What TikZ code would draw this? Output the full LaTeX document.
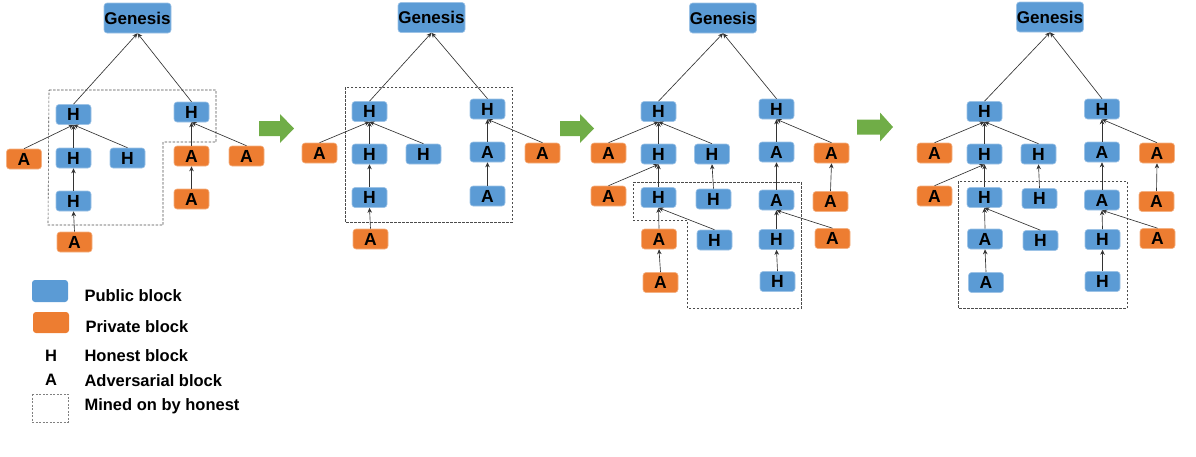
\documentclass[tikz,border=0pt]{standalone}
\usepackage{fontspec}
\setmainfont{Liberation Sans}
\usetikzlibrary{arrows.meta}

\definecolor{blokbiru}{HTML}{5B9BD5}
\definecolor{blokoranye}{HTML}{ED7D31}
\definecolor{panahhijau}{HTML}{70AD47}

\tikzset{
  blok/.style={rounded corners=3pt, minimum width=35pt, minimum height=20pt,
    inner sep=0pt, font=\fontsize{17.5}{17.5}\selectfont\bfseries},
  pub/.style={blok, fill=blokbiru, draw=blokbiru!60!white, line width=0.6pt},
  priv/.style={blok, fill=blokoranye, draw=blokoranye!60!white, line width=0.6pt},
  gen/.style={pub, minimum width=67pt, minimum height=30pt,
    font=\fontsize{17}{17}\selectfont\bfseries},
  ke/.style={draw=black!80, line width=0.65pt, -{Stealth[length=5pt,width=4.5pt]}},
  kotak/.style={draw=black!70, line width=0.6pt, dash pattern=on 2.5pt off 1.5pt},
  leg/.style={anchor=west, font=\fontsize{16.5}{16.5}\selectfont\bfseries}
}

\begin{document}
\begin{tikzpicture}[x=1pt, y=-1pt]
\useasboundingbox (0,0) rectangle (1196,456);

% panah hijau antar tahap
\foreach \xa/\xb/\xc/\yc in {259/280/294/128.5, 560/580/594/128.5, 857/880/893/127} {
  \fill[panahhijau] ({\xa},{\yc-7.5}) -- ({\xb},{\yc-7.5}) -- ({\xb},{\yc-14.5})
    -- ({\xc},{\yc}) -- ({\xb},{\yc+14.5}) -- ({\xb},{\yc+7.5}) -- ({\xa},{\yc+7.5}) -- cycle;
}

% tahap 1
\node[gen] (g1) at (137.5,18) {Genesis};
\node[pub] (p1h1) at (73.5,114.5) {H};
\node[pub] (p1h2) at (191.5,112) {H};
\node[priv] (p1a1) at (24,159) {A};
\node[pub] (p1h3) at (73.5,158) {H};
\node[pub] (p1h4) at (127.5,158) {H};
\node[pub] (p1h5) at (73.5,201) {H};
\node[priv] (p1a2) at (74.5,242) {A};
\node[priv] (p1a3) at (191.5,156) {A};
\node[priv] (p1a4) at (246.5,156) {A};
\node[priv] (p1a5) at (191.5,199) {A};
\draw[kotak] (49,90) -- (216,90) -- (216,142) -- (163,142) -- (163,225) -- (48,225) -- cycle;
\foreach \a/\b in {p1h1/g1, p1h2/g1, p1a1/p1h1, p1h3/p1h1, p1h4/p1h1, p1h5/p1h3,
  p1a2/p1h5, p1a3/p1h2, p1a4/p1h2, p1a5/p1a3} {
  \draw[ke] (\a.north) -- (\b.south);
}

% tahap 2
\node[gen] (g2) at (431.5,17.5) {Genesis};
\node[pub] (p2h1) at (369.5,111.5) {H};
\node[priv] (p2a1) at (319.5,153) {A};
\node[pub] (p2h2) at (369.5,154) {H};
\node[pub] (p2h3) at (423.5,154) {H};
\node[pub] (p2h4) at (369.5,197.5) {H};
\node[priv] (p2a2) at (370.5,239) {A};
\node[pub] (p2h5) at (487.5,109) {H};
\node[pub] (p2a3) at (487.5,152) {A};
\node[pub] (p2a4) at (487.5,196) {A};
\node[priv] (p2a5) at (542.5,153) {A};
\draw[kotak] (345,87) rectangle (512,222);
\foreach \a/\b in {p2h1/g2, p2h5/g2, p2a1/p2h1, p2h2/p2h1, p2h3/p2h1, p2h4/p2h2,
  p2a2/p2h4, p2a3/p2h5, p2a5/p2h5, p2a4/p2a3} {
  \draw[ke] (\a.north) -- (\b.south);
}

% tahap 3
\node[gen] (g3) at (723,18) {Genesis};
\node[pub] (p3h1) at (658.5,111.5) {H};
\node[priv] (p3a1) at (608.5,153) {A};
\node[pub] (p3h2) at (658.5,154) {H};
\node[pub] (p3h3) at (712,154) {H};
\node[priv] (p3a2) at (608.5,196) {A};
\node[pub] (p3h4) at (658.5,197.5) {H};
\node[pub] (p3h5) at (713.5,199) {H};
\node[priv] (p3a3) at (659,239) {A};
\node[pub] (p3h6) at (714.5,240) {H};
\node[priv] (p3a4) at (660.5,282.5) {A};
\node[pub] (p3h7) at (776.5,109) {H};
\node[pub] (p3a5) at (776.5,152) {A};
\node[priv] (p3a6) at (831.5,153) {A};
\node[pub] (p3a7) at (776.5,200) {A};
\node[priv] (p3a8) at (830.5,201.5) {A};
\node[pub] (p3h8) at (776.5,239.5) {H};
\node[priv] (p3a9) at (832.5,238.5) {A};
\node[pub] (p3h9) at (777.5,281.5) {H};
\draw[kotak] (633,182) -- (801,182) -- (801,308) -- (687,308) -- (687,220) -- (633,220) -- cycle;
\foreach \a/\b in {p3h1/g3, p3h7/g3, p3a1/p3h1, p3h2/p3h1, p3h3/p3h1, p3a2/p3h2,
  p3h4/p3h2, p3h5/p3h3, p3a3/p3h4, p3h6/p3h4, p3a4/p3a3, p3a5/p3h7, p3a6/p3h7,
  p3a7/p3a5, p3a8/p3a6, p3h8/p3a7, p3a9/p3a7, p3h9/p3h8} {
  \draw[ke] (\a.north) -- (\b.south);
}

% tahap 4
\node[gen] (g4) at (1050,17) {Genesis};
\node[pub] (p4h1) at (984.5,111.5) {H};
\node[priv] (p4a1) at (934.5,153) {A};
\node[pub] (p4h2) at (984.5,154) {H};
\node[pub] (p4h3) at (1038.5,154) {H};
\node[priv] (p4a2) at (934.5,196) {A};
\node[pub] (p4h4) at (984.5,197.5) {H};
\node[pub] (p4h5) at (1039.5,198.5) {H};
\node[pub] (p4a3) at (985,239) {A};
\node[pub] (p4h6) at (1040.5,240.5) {H};
\node[pub] (p4a4) at (986,282.5) {A};
\node[pub] (p4h7) at (1102,109) {H};
\node[pub] (p4a5) at (1102,152) {A};
\node[priv] (p4a6) at (1157,153) {A};
\node[pub] (p4a7) at (1102,200) {A};
\node[priv] (p4a8) at (1156.5,201.5) {A};
\node[pub] (p4h8) at (1102.5,239.5) {H};
\node[priv] (p4a9) at (1157.5,238.5) {A};
\node[pub] (p4h9) at (1102.5,281.5) {H};
\draw[kotak] (958,181) rectangle (1127,308);
\foreach \a/\b in {p4h1/g4, p4h7/g4, p4a1/p4h1, p4h2/p4h1, p4h3/p4h1, p4a2/p4h2,
  p4h4/p4h2, p4h5/p4h3, p4a3/p4h4, p4h6/p4h4, p4a4/p4a3, p4a5/p4h7, p4a6/p4h7,
  p4a7/p4a5, p4a8/p4a6, p4h8/p4a7, p4a9/p4a7, p4h9/p4h8} {
  \draw[ke] (\a.north) -- (\b.south);
}

% keterangan
\fill[blokbiru, rounded corners=3pt] (32,280) rectangle (68,302);
\node[leg] (lpub) at (81,296) {Public block};
\fill[blokoranye, rounded corners=3pt] (33,312) rectangle (69,333);
\node[leg] (lpriv) at (82,327) {Private block};
\node[font=\fontsize{16.5}{16.5}\selectfont\bfseries] (lh) at (51,356) {H};
\node[leg] (lhon) at (81,356) {Honest block};
\node[font=\fontsize{16.5}{16.5}\selectfont\bfseries] (la) at (51,380) {A};
\node[leg] (ladv) at (81,381) {Adversarial block};
\draw[draw=black!50, line width=0.6pt, dash pattern=on 2pt off 1.5pt] (32,394) rectangle (68,422);
\node[leg] (lmin) at (81,406) {Mined on by honest};

\end{tikzpicture}
\end{document}
